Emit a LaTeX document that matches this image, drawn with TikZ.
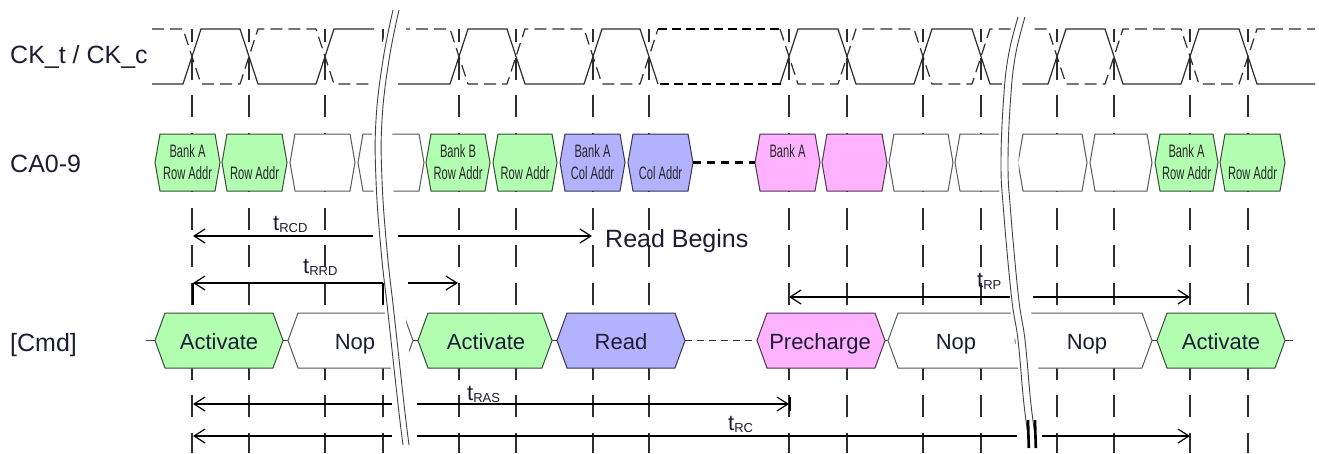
\documentclass[tikz,border=0pt]{standalone}
\usepackage{fontspec}
\setmainfont{Liberation Sans}
\usetikzlibrary{arrows.meta}
\definecolor{cagreen}{RGB}{178,255,178}
\definecolor{cablue}{RGB}{178,178,255}
\definecolor{capink}{RGB}{255,178,255}
\definecolor{txt}{RGB}{28,28,52}
\definecolor{wire}{RGB}{45,45,45}
\tikzset{
  gridln/.style={draw=wire, line width=1.2pt, dash pattern=on 22pt off 15.5pt, dash phase=9pt},
  ckt/.style={draw=wire, line width=1.2pt},
  ckc/.style={draw=wire, line width=1.2pt, dash pattern=on 12pt off 6pt},
  ckgap/.style={draw=black, line width=2.2pt, dash pattern=on 9pt off 5pt},
  greenbox/.style={fill=cagreen, draw=cagreen!30!black, line width=1pt},
  bluebox/.style={fill=cablue, draw=cablue!30!black, line width=1pt},
  pinkbox/.style={fill=capink, draw=capink!30!black, line width=1pt},
  whitebox/.style={fill=white, draw=black!65, line width=1pt},
  catext/.style={font=\fontsize{18}{21}\selectfont, text=black!85, xscale=0.62, inner sep=0pt, anchor=base},
  cmdtext/.style={font=\fontsize{22}{26}\selectfont, text=txt, inner sep=0pt, anchor=base},
  rowlabel/.style={font=\fontsize{25}{30}\selectfont, text=txt, inner sep=0pt, anchor=base west},
  tlabel/.style={font=\fontsize{22}{26}\selectfont, text=txt, inner sep=0pt, anchor=base west},
  timearrow/.style={draw=black, line width=1.2pt},
  larr/.style={{Straight Barb[length=11pt,width=14pt]}-},
  rarr/.style={-{Straight Barb[length=11pt,width=14pt]}},
  stub/.style={draw=black!75, line width=1pt},
  cmddash/.style={draw=black!80, line width=1.2pt, dash pattern=on 7pt off 5pt},
  cadash/.style={draw=black, line width=2.5pt, dash pattern=on 8pt off 6pt},
  brk/.style={draw=black!75, line width=0.9pt},
  brkmask/.style={draw=white, line width=20pt},
  barthick/.style={draw=black, line width=2.6pt}
}
\newcommand{\cabox}[6]{%
  \path[#4] (#2,162.5) -- ({#2+5},134) -- ({#3-5},134) -- (#3,162.5) -- ({#3-5},191) -- ({#2+5},191) -- cycle;
  \coordinate (#1W) at (#2,162.5);
  \coordinate (#1E) at (#3,162.5);
  \node[catext] (#1a) at ({(#2+#3)/2},157.5) {#5};
  \node[catext] (#1b) at ({(#2+#3)/2},179) {#6};
}
\newcommand{\cmdbox}[6]{%
  \path[#4] (#2,340.5) -- ({#2+10},313) -- ({#3-10},313) -- (#3,340.5) -- ({#3-10},368) -- ({#2+10},368) -- cycle;
  \coordinate (#1W) at (#2,340.5);
  \coordinate (#1E) at (#3,340.5);
  \node[cmdtext] (#1) at (#6,349) {#5};
}
\begin{document}
\begin{tikzpicture}[x=1pt,y=-1pt]
\useasboundingbox (0,0) rectangle (1319,453);
\fill[white] (0,0) rectangle (1319,453);

% grid lines at clock crossings
\foreach \x in {192,249,325,383,459,516,593,649,789,847,923,981,1057,1114,1190,1248}
  \draw[gridln] (\x,29) -- (\x,453);

% CK_t (solid)
\draw[ckt] (152,84) -- (183,84) -- (201,29) -- (240,29) -- (258,84) -- (316,84) -- (334,29) -- (374,29);
\draw[ckt] (398,84) -- (450,84) -- (468,29) -- (507,29) -- (525,84) -- (584,84) -- (602,29) -- (640,29) -- (658,84);
\draw[ckt] (780,84) -- (798,29) -- (838,29) -- (856,84) -- (914,84) -- (932,29) -- (972,29) -- (990,84) -- (1048,84) -- (1066,29) -- (1105,29) -- (1123,84) -- (1181,84) -- (1199,29) -- (1239,29) -- (1257,84) -- (1315,84);
% CK_c (dashed)
\draw[ckc] (152,29) -- (183,29) -- (201,84) -- (240,84) -- (258,29) -- (316,29) -- (334,84) -- (374,84);
\draw[ckc] (398,29) -- (450,29) -- (468,84) -- (507,84) -- (525,29) -- (584,29) -- (602,84) -- (640,84) -- (658,29);
\draw[ckc] (780,29) -- (798,84) -- (838,84) -- (856,29) -- (914,29) -- (932,84) -- (972,84) -- (990,29) -- (1048,29) -- (1066,84) -- (1105,84) -- (1123,29) -- (1181,29) -- (1199,84) -- (1239,84) -- (1257,29) -- (1315,29);
% omitted clocks
\draw[ckgap] (658,29) -- (780,29);
\draw[ckgap] (660,84) -- (782,84);

% row labels
\node[rowlabel] (lck) at (10,63) {CK\_t / CK\_c};
\node[rowlabel] (lca) at (10,172) {CA0-9};
\node[rowlabel] (lcmd) at (10,351) {[Cmd]};

% CA0-9 row
\cabox{c1}{155}{220}{greenbox}{Bank A}{Row Addr}
\cabox{c2}{222}{287}{greenbox}{}{Row Addr}
\cabox{c3}{290}{355}{whitebox}{}{}
\cabox{c4}{358}{424}{whitebox}{}{}
\cabox{c5}{426}{490}{greenbox}{Bank B}{Row Addr}
\cabox{c6}{493}{557}{greenbox}{}{Row Addr}
\cabox{c7}{560}{625}{bluebox}{Bank A}{Col Addr}
\cabox{c8}{628}{693}{bluebox}{}{Col Addr}
\cabox{c9}{755}{820}{pinkbox}{Bank A}{}
\cabox{c10}{822}{887}{pinkbox}{}{}
\cabox{c11}{889}{953}{whitebox}{}{}
\cabox{c12}{955}{1016}{whitebox}{}{}
\cabox{c13}{1018}{1087}{whitebox}{}{}
\cabox{c14}{1090}{1152}{whitebox}{}{}
\cabox{c15}{1155}{1218}{greenbox}{Bank A}{Row Addr}
\cabox{c16}{1220}{1285}{greenbox}{}{Row Addr}
\draw[cadash] (c8E) -- (c9W);

% Cmd row
\coordinate (cmdL) at (146,340.5);
\coordinate (cmdR) at (1293,340.5);
\cmdbox{m1}{155}{283}{greenbox}{Activate}{219}
\cmdbox{m2}{288}{413}{whitebox}{Nop}{355}
\cmdbox{m3}{418}{552}{greenbox}{Activate}{486}
\cmdbox{m4}{557}{685}{bluebox}{Read}{621}
\cmdbox{m5}{757}{885}{pinkbox}{Precharge}{820}
\cmdbox{m6}{888}{1030}{whitebox}{Nop}{956}
\cmdbox{m7}{1015}{1152}{whitebox}{Nop}{1087}
\cmdbox{m8}{1157}{1285}{greenbox}{Activate}{1221}
\draw[stub] (cmdL) -- (m1W);
\draw[stub] (m1E) -- (m2W);
\draw[stub] (m2E) -- (m3W);
\draw[stub] (m3E) -- (m4W);
\draw[cmddash] (m4E) -- (m5W);
\draw[stub] (m5E) -- (m6W);
\draw[stub] (m7E) -- (m8W);
\draw[stub] (m8E) -- (cmdR);

% break marks
\draw[brkmask] plot[smooth, tension=0.7] coordinates {(400,10) (390,60) (383,120) (383,180) (388,250) (395,313) (405,404) (410,445)};
\draw[brk] plot[smooth, tension=0.7] coordinates {(393,10) (383,60) (376,120) (376,180) (381,250) (388,313) (398,404) (403,445)};
\draw[brk] plot[smooth, tension=0.7] coordinates {(399,10) (389,60) (382,120) (382,180) (387,250) (394,313) (404,404) (409,445)};

\draw[brkmask] plot[smooth, tension=0.7] coordinates {(1025.5,17) (1016,55) (1011,100) (1008.5,163) (1011,210) (1019,297) (1025.5,340) (1031,400) (1035.5,436) (1036.5,448)};
\draw[brk] plot[smooth, tension=0.7] coordinates {(1018,17) (1008.5,55) (1003.5,100) (1001,163) (1003.5,210) (1011.5,297) (1018,340) (1023.5,400) (1028,436) (1029,448)};
\draw[brk] plot[smooth, tension=0.7] coordinates {(1025,17) (1015.5,55) (1010.5,100) (1008,163) (1015.5-5,210) (1018.5,297) (1025,340) (1030.5,400) (1035,436) (1036,448)};
\draw[barthick] (1028,420) -- (1028.8,448);
\draw[barthick] (1035,420) -- (1035.8,448);

% tRCD
\coordinate (rcdA) at (193,236);
\coordinate (rcdB) at (373,236);
\coordinate (rcdC) at (398,236);
\coordinate (rcdD) at (592,236);
\draw[timearrow,larr] (rcdA) -- (rcdB);
\draw[timearrow,rarr] (rcdC) -- (rcdD);
\node[tlabel] (trcd) at (273,230) {t\raisebox{-2pt}{\fontsize{13}{13}\selectfont RCD}};
\node[rowlabel] (rb) at (605,247) {Read Begins};

% tRRD
\coordinate (rrdA) at (193,283);
\coordinate (rrdB) at (383,283);
\coordinate (rrdC) at (408,283);
\coordinate (rrdD) at (458,283);
\draw[timearrow,larr] (rrdA) -- (rrdB);
\draw[timearrow,rarr] (rrdC) -- (rrdD);
\draw[barthick] (193,283) -- (193,305);
\draw[draw=black, line width=1.5pt] (383,283) -- (383,305);
\node[tlabel] (trrd) at (303,273) {t\raisebox{-2pt}{\fontsize{13}{13}\selectfont RRD}};

% tRP
\coordinate (rpA) at (789,297);
\coordinate (rpB) at (1010,297);
\coordinate (rpC) at (1033,297);
\coordinate (rpD) at (1190,297);
\draw[timearrow,larr] (rpA) -- (rpB);
\draw[timearrow,rarr] (rpC) -- (rpD);
\node[tlabel] (trp) at (977,287) {t\raisebox{-2pt}{\fontsize{13}{13}\selectfont RP}};

% tRAS
\coordinate (rasA) at (193,404);
\coordinate (rasB) at (392,404);
\coordinate (rasC) at (417,404);
\coordinate (rasD) at (789,404);
\draw[timearrow,larr] (rasA) -- (rasB);
\draw[timearrow,rarr] (rasC) -- (rasD);
\draw[draw=black, line width=2.2pt] (790,397) -- (790,411);
\node[tlabel] (tras) at (467,400) {t\raisebox{-2pt}{\fontsize{13}{13}\selectfont RAS}};

% tRC
\coordinate (rcA) at (193,436);
\coordinate (rcB) at (392,436);
\coordinate (rcC) at (417,436);
\coordinate (rcD) at (1017,436);
\coordinate (rcE) at (1042,436);
\coordinate (rcF) at (1190,436);
\draw[timearrow,larr] (rcA) -- (rcB);
\draw[timearrow] (rcC) -- (rcD);
\draw[timearrow,rarr] (rcE) -- (rcF);
\node[tlabel] (trc) at (728,430) {t\raisebox{-2pt}{\fontsize{13}{13}\selectfont RC}};
\end{tikzpicture}
\end{document}
